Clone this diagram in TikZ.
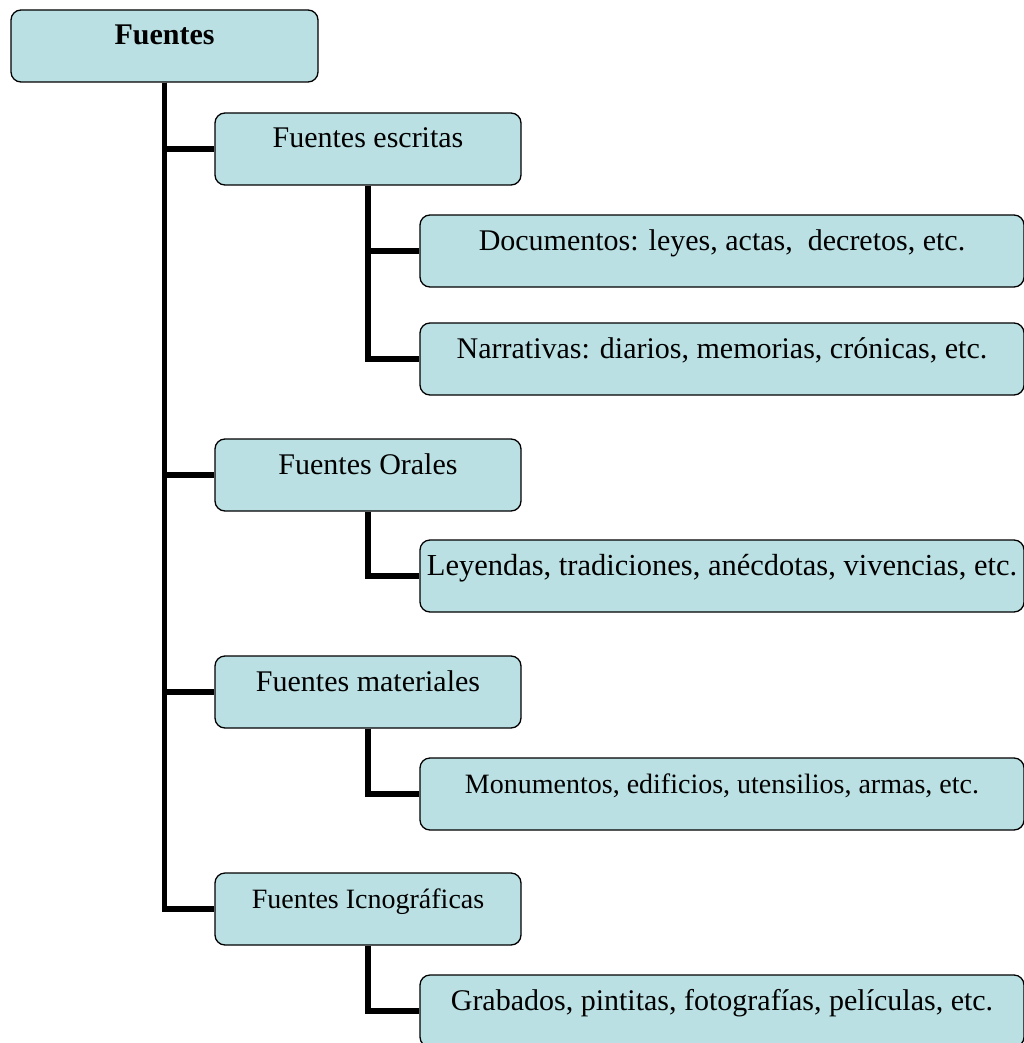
\documentclass[tikz,border=0pt]{standalone}
\usepackage{fontspec}
\setmainfont{Liberation Serif}
\definecolor{boxfill}{RGB}{186,224,227}
\tikzset{
  box/.style={draw=black, line width=1.3pt, fill=boxfill, rounded corners=10pt,
    inner xsep=0pt, inner ysep=0pt, text height=35pt, text depth=37pt, align=center},
  lvlA/.style={box, minimum width=306pt},
  lvlB/.style={box, minimum width=604pt},
  conn/.style={draw=black, line width=5.5pt}
}
\begin{document}
\begin{tikzpicture}[x=1pt,y=-1pt]
\useasboundingbox (0,0) rectangle (1024,1043);
\clip (0,0) rectangle (1024,1043);
% nodes
\node[box, minimum width=307pt, font=\fontsize{30}{34}\selectfont\bfseries] (root) at (164.5,46) {Fuentes};
\node[lvlA, font=\fontsize{30}{34}\selectfont] (esc) at (368,149) {Fuentes escritas};
\node[lvlA, font=\fontsize{30}{34}\selectfont] (ora) at (368,475) {Fuentes Orales};
\node[lvlA, font=\fontsize{30}{34}\selectfont] (mat) at (368,692) {Fuentes materiales};
\node[lvlA, font=\fontsize{28}{32}\selectfont] (ico) at (368,909) {Fuentes Icnográficas};
\node[lvlB, font=\fontsize{30}{34}\selectfont] (doc) at (722,251) {Documentos: leyes, actas,\ \ decretos, etc.};
\node[lvlB, font=\fontsize{30}{34}\selectfont] (nar) at (722,359) {Narrativas: diarios, memorias, crónicas, etc.};
\node[lvlB, font=\fontsize{30.5}{34}\selectfont] (ley) at (722,576) {Leyendas, tradiciones, anécdotas, vivencias, etc.};
\node[lvlB, font=\fontsize{28}{32}\selectfont] (mon) at (722,794) {Monumentos, edificios, utensilios, armas, etc.};
\node[lvlB, font=\fontsize{30}{34}\selectfont] (gra) at (722,1011) {Grabados, pintitas, fotografías, películas, etc.};
% connectors
\path[conn] (root.south) |- (esc.west);
\path[conn] (root.south) |- (ora.west);
\path[conn] (root.south) |- (mat.west);
\path[conn] (root.south) |- (ico.west);
\path[conn] (esc.south) |- (doc.west);
\path[conn] (esc.south) |- (nar.west);
\path[conn] (ora.south) |- (ley.west);
\path[conn] (mat.south) |- (mon.west);
\path[conn] (ico.south) |- (gra.west);
\end{tikzpicture}
\end{document}
